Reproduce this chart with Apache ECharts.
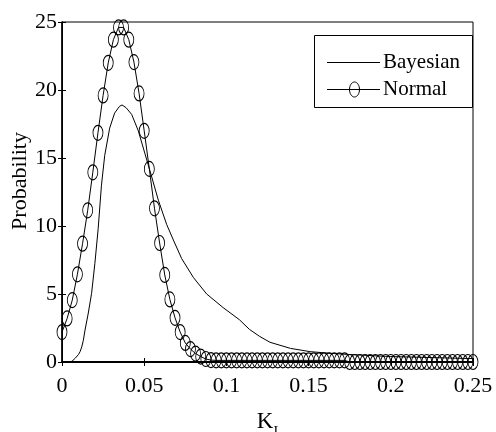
<!DOCTYPE html>
<html>
<head>
<meta charset="utf-8">
<script src="https://cdn.jsdelivr.net/npm/echarts@6/dist/echarts.min.js"></script>
<style>
  html, body { margin: 0; padding: 0; background: #fff; }
  #chart { width: 496px; height: 432px; }
</style>
</head>
<body>
<div id="chart"></div>
<script>
// Bayesian posterior density of K_I (smooth curve)
const bayesK = [0, 0.004, 0.006, 0.008, 0.010, 0.011, 0.012, 0.013, 0.014, 0.016, 0.018, 0.020,
  0.022, 0.024, 0.026, 0.029, 0.032, 0.035, 0.0365, 0.039, 0.0424, 0.0464, 0.0505, 0.0546,
  0.0586, 0.0637, 0.068, 0.0728, 0.080, 0.088, 0.098, 0.108, 0.114, 0.120, 0.1265, 0.139,
  0.151, 0.163, 0.175, 0.20, 0.25];
const bayesP = [0, 0, 0.05, 0.27, 0.55, 0.76, 1.1, 1.6, 2.35, 3.6, 5.05, 7.25,
  9.8, 13.0, 15.2, 17.2, 18.3, 18.8, 18.9, 18.7, 18.2, 17.0, 15.3, 13.6,
  11.9, 10.1, 8.9, 7.6, 6.2, 5.0, 4.0, 3.1, 2.4, 1.9, 1.45, 1.0,
  0.76, 0.64, 0.55, 0.4, 0.25];

// Normal density sampled on a uniform K_I grid (81 samples over 0..0.25)
const normalStep = 0.25 / 80;
const normalP = [2.2, 3.2, 4.55, 6.45, 8.7, 11.15, 13.95, 16.85, 19.6, 22.0, 23.7, 24.6,
  24.6, 23.7, 22.05, 19.75, 17.0, 14.2, 11.3, 8.75, 6.4, 4.6, 3.25, 2.2, 1.4, 0.95,
  0.62, 0.4, 0.22, 0.14,
  0.12, 0.12, 0.12, 0.12, 0.12, 0.12, 0.12, 0.12, 0.12, 0.12, 0.12, 0.12, 0.12,
  0.12, 0.12, 0.12, 0.12, 0.12, 0.12, 0.12, 0.12, 0.12, 0.12, 0.12, 0.12, 0.12,
  0, 0, 0, 0, 0, 0, 0, 0, 0, 0, 0, 0, 0, 0, 0, 0, 0, 0, 0, 0, 0, 0, 0, 0, 0];

const xTicks = [0, 0.05, 0.1, 0.15, 0.2, 0.25];
const yTicks = [0, 5, 10, 15, 20, 25];
const seriesNames = ['Bayesian', 'Normal'];

const FONT = 'Liberation Serif';
const bayesData = bayesK.map((k, i) => [k, bayesP[i]]);
const normalData = normalP.map((p, i) => [i * normalStep, p]);

const chart = echarts.init(document.getElementById('chart'), null, { renderer: 'canvas' });

const baseX = {
  type: 'value', min: xTicks[0], max: xTicks[xTicks.length - 1],
  interval: xTicks[1] - xTicks[0],
  splitLine: { show: false },
  axisTick: { inside: true, length: 4, lineStyle: { color: '#000', width: 1 } }
};
const baseY = {
  type: 'value', min: yTicks[0], max: yTicks[yTicks.length - 1],
  interval: yTicks[1] - yTicks[0],
  splitLine: { show: false },
  axisTick: { inside: true, length: 4, lineStyle: { color: '#000', width: 1 } }
};

// legend box geometry
const lg = { x: 314, y: 35, w: 158, h: 72, lineX0: 327, lineX1: 380, row1: 62, row2: 89, textX: 383 };

chart.setOption({
  animation: false,
  backgroundColor: '#fff',
  grid: {
    left: 62, right: 23, top: 22, bottom: 70,
    outerBoundsMode: 'none',
    containLabel: false,
    show: true, borderColor: '#000', borderWidth: 1, backgroundColor: 'transparent'
  },
  xAxis: [
    Object.assign({}, baseX, {
      position: 'bottom',
      axisLine: { show: true, onZero: false, lineStyle: { color: '#000', width: 2 } },
      axisLabel: {
        color: '#000', fontFamily: FONT, fontSize: 22, margin: 13,
        formatter: v => String(+v.toFixed(2))
      },
      name: '{k|K}{s|I}',
      nameLocation: 'middle',
      nameGap: 48,
      nameMoveOverlap: false,
      nameTextStyle: {
        rich: {
          k: { fontFamily: FONT, fontSize: 23, color: '#000', lineHeight: 29, verticalAlign: 'top' },
          s: { fontFamily: FONT, fontSize: 14, color: '#000', verticalAlign: 'bottom' }
        }
      }
    }),
    Object.assign({}, baseX, {
      position: 'top',
      axisLine: { show: true, lineStyle: { color: '#000', width: 1.5 } },
      axisLabel: { show: false }
    })
  ],
  yAxis: [
    Object.assign({}, baseY, {
      position: 'left',
      axisLine: { show: true, onZero: false, lineStyle: { color: '#000', width: 1.5 } },
      axisLabel: { color: '#000', fontFamily: FONT, fontSize: 22, margin: 5 },
      name: 'Probability',
      nameLocation: 'middle',
      nameGap: 31,
      nameRotate: 90,
      nameMoveOverlap: false,
      nameTextStyle: { color: '#000', fontFamily: FONT, fontSize: 22, padding: [0, 0, 0, 22] }
    }),
    Object.assign({}, baseY, {
      position: 'right',
      axisLine: { show: true, lineStyle: { color: '#000', width: 1 } },
      axisLabel: { show: false }
    })
  ],
  series: [
    {
      name: seriesNames[0],
      type: 'line',
      data: bayesData,
      symbol: 'none',
      smooth: false,
      clip: false,
      lineStyle: { color: '#000', width: 1 },
      z: 3
    },
    {
      name: seriesNames[1],
      type: 'line',
      data: normalData,
      symbol: 'circle',
      symbolSize: [10, 15],
      showAllSymbol: true,
      clip: false,
      lineStyle: { color: '#000', width: 1 },
      itemStyle: { color: 'transparent', borderColor: '#000', borderWidth: 1 },
      z: 2
    }
  ],
  graphic: [
    {
      type: 'rect', z: 100,
      shape: { x: lg.x + 0.5, y: lg.y + 0.5, width: lg.w, height: lg.h },
      style: { fill: '#fff', stroke: '#000', lineWidth: 1 }
    },
    {
      type: 'line', z: 101,
      shape: { x1: lg.lineX0, y1: lg.row1 + 0.5, x2: lg.lineX1, y2: lg.row1 + 0.5 },
      style: { stroke: '#000', lineWidth: 1 }
    },
    {
      type: 'text', z: 101, x: lg.textX, y: lg.row1,
      style: { text: seriesNames[0], fill: '#000', font: '21px "' + FONT + '"', verticalAlign: 'middle', align: 'left' }
    },
    {
      type: 'line', z: 101,
      shape: { x1: lg.lineX0, y1: lg.row2 + 0.5, x2: lg.lineX1, y2: lg.row2 + 0.5 },
      style: { stroke: '#000', lineWidth: 1 }
    },
    {
      type: 'ellipse', z: 102,
      shape: { cx: (lg.lineX0 + lg.lineX1) / 2 + 1, cy: lg.row2 + 0.5, rx: 5, ry: 7.5 },
      style: { fill: 'transparent', stroke: '#000', lineWidth: 1 }
    },
    {
      type: 'text', z: 101, x: lg.textX, y: lg.row2,
      style: { text: seriesNames[1], fill: '#000', font: '21px "' + FONT + '"', verticalAlign: 'middle', align: 'left' }
    }
  ]
});
</script>
</body>
</html>
